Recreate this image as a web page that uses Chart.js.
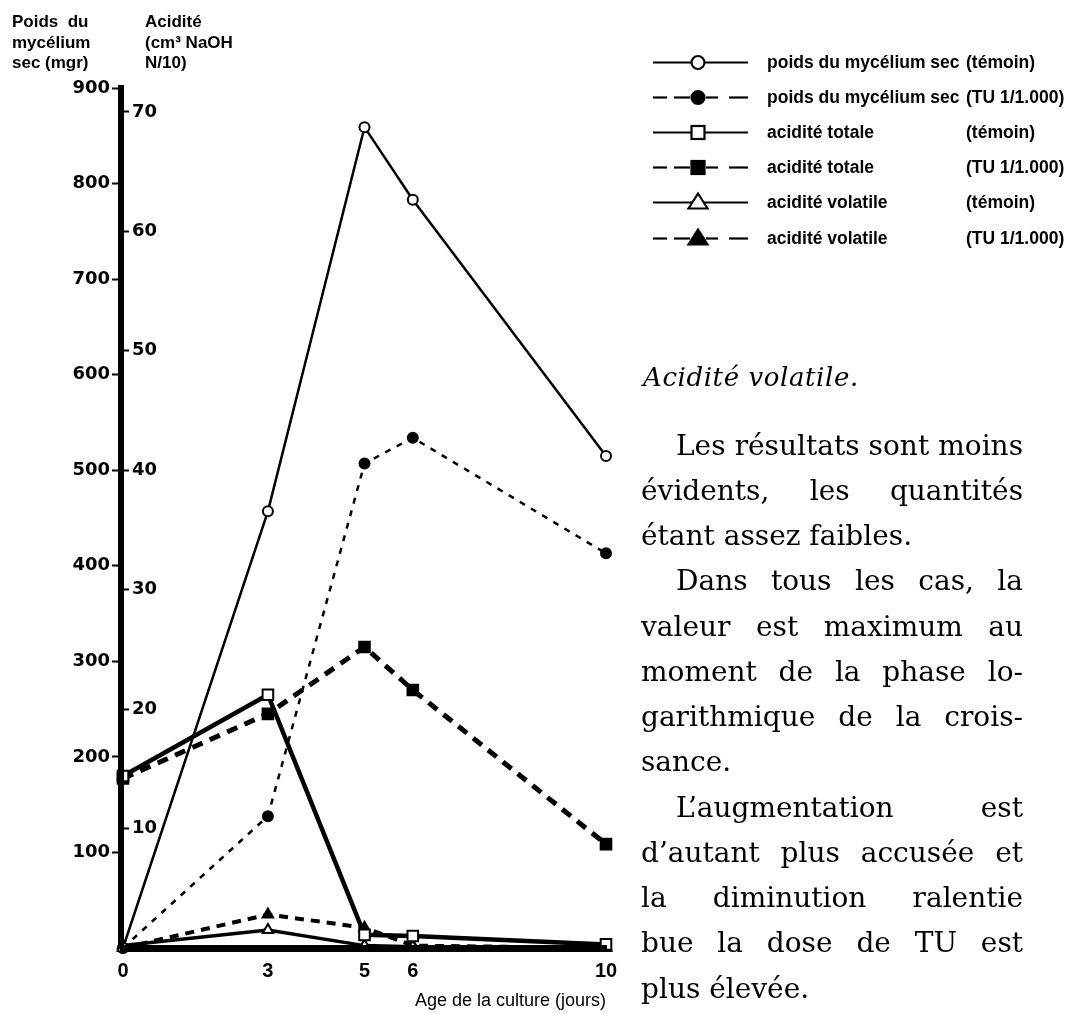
<!DOCTYPE html>
<html>
<head>
<meta charset="utf-8">
<script src="https://cdn.jsdelivr.net/npm/chart.js@4.4.1/dist/chart.umd.min.js"></script>
<style>
html,body{margin:0;padding:0;background:#fff;}
#wrap{position:relative;width:1072px;height:1014px;overflow:hidden;background:#fff;}
#c{position:absolute;left:0;top:0;}
.ttl{position:absolute;top:12px;font-family:"Liberation Sans",Arial,sans-serif;font-weight:bold;font-size:17px;line-height:20.5px;color:#000;white-space:nowrap;}
.ttl span{display:block;}
#legend{position:absolute;left:653px;top:45px;width:419px;font-family:"Liberation Sans",Arial,sans-serif;font-weight:bold;font-size:17.5px;color:#000;}
.lrow{position:absolute;left:0;height:35px;width:419px;}
.lrow svg{position:absolute;left:0;top:0;}
.lrow .t1{position:absolute;left:114px;top:0;line-height:35px;white-space:nowrap;}
.lrow .t2{position:absolute;left:313px;top:0;line-height:35px;white-space:nowrap;}
#text{position:absolute;left:641px;top:0;width:382px;font-family:"DejaVu Serif",serif;font-size:28px;color:#000;}
#text div{position:absolute;left:0;width:382px;height:45px;line-height:45px;white-space:nowrap;}
#text div.j{text-align:justify;text-align-last:justify;}
#text div.in{left:35px;width:347px;}
#text div.it{font-style:italic;letter-spacing:0.6px;font-size:26px;left:2px;}
</style>
</head>
<body>
<div id="wrap">
<canvas id="c" width="1072" height="1014"></canvas>
<div class="ttl" style="left:12px"><span>Poids&nbsp; du</span><span>mycélium</span><span>sec (mgr)</span></div>
<div class="ttl" style="left:145px"><span>Acidité</span><span>(cm³ NaOH</span><span>N/10)</span></div>
<div id="legend"></div>
<div id="text"></div>
</div>
<script>
// ---- data ----
const days = [0, 3, 5, 6, 10];
const poidsTemoin = [0, 457, 859, 783, 515];
const poidsTU = [0, 138, 507, 534, 413];
const aciditeTotaleTemoin = [14.4, 21.2, 1.1, 1.0, 0.3];
const aciditeTotaleTU = [14.2, 19.6, 25.2, 21.6, 8.7];
const aciditeVolatileTemoin = [0.2, 1.5, 0.2, 0.1, 0.1];
const aciditeVolatileTU = [0, 2.8, 1.7, 0.2, 0];
const dayTicks = [0, 3, 5, 6, 10];
const mgTicks = [100, 200, 300, 400, 500, 600, 700, 800, 900];
const acidTicks = [10, 20, 30, 40, 50, 60, 70];
const seriesNames = ["poids du mycélium sec", "poids du mycélium sec", "acidité totale", "acidité totale", "acidité volatile", "acidité volatile"];
const seriesGroups = ["(témoin)", "(TU 1/1.000)", "(témoin)", "(TU 1/1.000)", "(témoin)", "(TU 1/1.000)"];
const xAxisTitle = "Age de la culture (jours)";
const paragraphLines = [
  ["Acidité volatile.", "it"],
  ["Les résultats sont moins", "j in"],
  ["évidents, les quantités", "j"],
  ["étant assez faibles.", ""],
  ["Dans tous les cas, la", "j in"],
  ["valeur est maximum au", "j"],
  ["moment de la phase lo-", "j"],
  ["garithmique de la crois-", "j"],
  ["sance.", ""],
  ["L’augmentation est", "j in"],
  ["d’autant plus accusée et", "j"],
  ["la diminution ralentie", "j"],
  ["bue la dose de TU est", "j"],
  ["plus élevée.", ""]
];

const pts = arr => days.map((d, i) => ({x: d, y: arr[i]}));

// ---- styles per series ----
const styles = [
  {data: poidsTemoin, axis: 'mg', width: 2.5, dash: [], ps: 'circle', r: 5, fill: '#fff'},
  {data: poidsTU, axis: 'mg', width: 2.5, dash: [6, 7], ps: 'circle', r: 5, fill: '#000'},
  {data: aciditeTotaleTemoin, axis: 'acid', width: 4.5, dash: [], ps: 'rect', r: 7.5, fill: '#fff'},
  {data: aciditeTotaleTU, axis: 'acid', width: 5, dash: [11, 8], ps: 'rect', r: 7.5, fill: '#000'},
  {data: aciditeVolatileTemoin, axis: 'acid', width: 3.5, dash: [], ps: 'triangle', r: 6, fill: '#fff'},
  {data: aciditeVolatileTU, axis: 'acid', width: 4, dash: [9, 7], ps: 'triangle', r: 6, fill: '#000'}
];

const datasets = styles.map((s, i) => ({
  label: seriesNames[i] + ' ' + seriesGroups[i],
  data: pts(s.data),
  yAxisID: s.axis,
  borderColor: '#000',
  borderWidth: s.width,
  borderDash: s.dash,
  pointStyle: s.ps,
  pointRadius: s.r,
  pointBorderWidth: 2,
  pointBorderColor: '#000',
  pointBackgroundColor: s.fill,
  tension: 0,
  fill: false,
  clip: false
}));

Chart.defaults.color = '#000';
Chart.defaults.font.family = '"DejaVu Sans", sans-serif';

new Chart(document.getElementById('c'), {
  type: 'line',
  data: {datasets},
  options: {
    responsive: false,
    animation: false,
    devicePixelRatio: 1,
    layout: {padding: {left: 61, right: 466, top: 88, bottom: 0}},
    plugins: {legend: {display: false}, tooltip: {enabled: false}},
    scales: {
      x: {
        type: 'linear', position: 'bottom', min: 0, max: 10,
        afterBuildTicks: s => { s.ticks = dayTicks.map(v => ({value: v})); },
        afterFit: s => { s.height = 66; },
        grid: {display: true, drawOnChartArea: false, drawTicks: false},
        border: {display: true, width: 7, color: '#000', z: 1},
        ticks: {autoSkip: false, maxRotation: 0, padding: 11,
          font: {family: '"Liberation Sans Narrow", "Liberation Sans", sans-serif', weight: 'bold', size: 20},
          callback: v => String(v)},
        title: {display: true, text: xAxisTitle, align: 'end', padding: {top: 0, bottom: 2},
          font: {family: '"Liberation Sans", Arial, sans-serif', size: 18}}
      },
      mg: {
        type: 'linear', position: 'left', min: 0, max: 900, weight: 1,
        afterBuildTicks: s => { s.ticks = mgTicks.map(v => ({value: v})); },
        afterFit: s => { s.width = 60; },
        grid: {display: true, drawOnChartArea: false, drawTicks: true, tickLength: 9, tickWidth: 2, tickColor: '#000'},
        border: {display: true, width: 6, color: '#000', z: 1},
        ticks: {padding: 2, font: {weight: 'bold', size: 18}}
      },
      acid: {
        type: 'linear', position: 'left', min: 0, max: 72, weight: 0,
        afterBuildTicks: s => { s.ticks = acidTicks.map(v => ({value: v})); },
        afterFit: s => { s.width = 2; },
        grid: {display: true, drawOnChartArea: false, drawTicks: true, tickLength: -6, tickWidth: 2, tickColor: '#000'},
        border: {display: false},
        ticks: {mirror: true, padding: 9, font: {weight: 'bold', size: 18}}
      }
    }
  }
});

// ---- legend (HTML) ----
const leg = document.getElementById('legend');
const rowStep = 35.1;
styles.forEach((s, i) => {
  const row = document.createElement('div');
  row.className = 'lrow';
  row.style.top = (i * rowStep) + 'px';
  const y = 17.5, cx = 45;
  let lines = '';
  if (s.dash.length === 0) {
    lines = `<line x1="0" y1="${y}" x2="95" y2="${y}" stroke="#000" stroke-width="2.2"/>`;
  } else {
    [[0, 14], [21, 37], [53, 65], [76, 95]].forEach(seg => {
      lines += `<line x1="${seg[0]}" y1="${y}" x2="${seg[1]}" y2="${y}" stroke="#000" stroke-width="2.2"/>`;
    });
  }
  let mk = '';
  if (s.ps === 'circle') mk = `<circle cx="${cx}" cy="${y}" r="6.5" fill="${s.fill}" stroke="#000" stroke-width="2.2"/>`;
  if (s.ps === 'rect') mk = `<rect x="${cx - 6.5}" y="${y - 6.5}" width="13" height="13" fill="${s.fill}" stroke="#000" stroke-width="2.2"/>`;
  if (s.ps === 'triangle') mk = `<polygon points="${cx},${y - 9} ${cx - 9.5},${y + 6} ${cx + 9.5},${y + 6}" fill="${s.fill}" stroke="#000" stroke-width="2.2"/>`;
  row.innerHTML = `<svg width="95" height="35">${lines}${mk}</svg><span class="t1">${seriesNames[i]}</span><span class="t2">${seriesGroups[i]}</span>`;
  leg.appendChild(row);
});

// ---- paragraph ----
const txt = document.getElementById('text');
const centers = [377];
for (let k = 0; k < paragraphLines.length - 1; k++) centers.push(445 + k * 45.25);
paragraphLines.forEach((p, k) => {
  const d = document.createElement('div');
  d.className = p[1];
  d.textContent = p[0];
  d.style.top = (centers[k] - 22.5) + 'px';
  txt.appendChild(d);
});
</script>
</body>
</html>
